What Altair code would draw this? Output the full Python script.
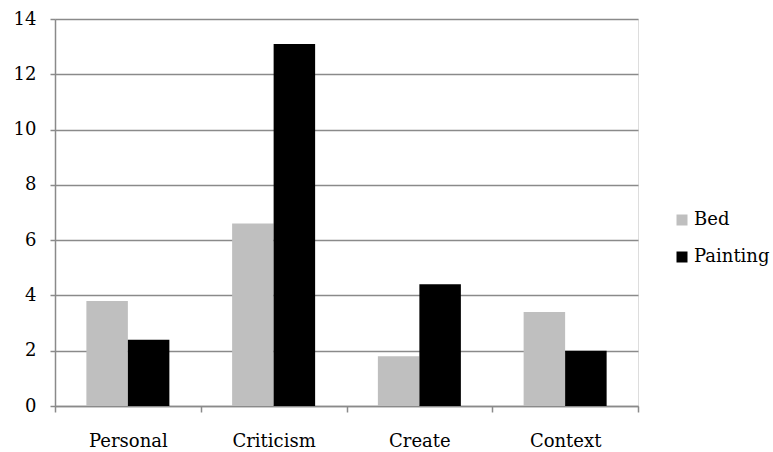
import altair as alt
import pandas as pd

categories = ["Personal", "Criticism", "Create", "Context"]
series = ["Bed", "Painting"]
bed_values = [3.8, 6.6, 1.8, 3.4]
painting_values = [2.4, 13.1, 4.4, 2.0]
y_ticks = [0, 2, 4, 6, 8, 10, 12, 14]

rows = []
for c, b, p in zip(categories, bed_values, painting_values):
    rows.append({"category": c, "series": "Bed", "value": b})
    rows.append({"category": c, "series": "Painting", "value": p})
df = pd.DataFrame(rows)

FONT = "DejaVu Serif"
GRID = "#8a8a8a"

chart = alt.Chart(df).mark_bar().encode(
    x=alt.X("category:N", sort=categories, title=None,
            scale=alt.Scale(paddingInner=0, paddingOuter=0),
            axis=alt.Axis(labelAngle=0, tickBand="extent", ticks=True, tickSize=6,
                          tickColor=GRID, tickWidth=1.5, domainColor=GRID, domainWidth=1.5,
                          labelFont=FONT, labelFontSize=18, labelColor="#000000",
                          labelPadding=20, grid=False)),
    xOffset=alt.XOffset("series:N", sort=series,
                        scale=alt.Scale(paddingInner=0, paddingOuter=0.756)),
    y=alt.Y("value:Q", title=None,
            scale=alt.Scale(domain=[0, 14], nice=False),
            axis=alt.Axis(values=y_ticks, tickSize=5, tickColor=GRID, tickWidth=1.5,
                          domainColor=GRID, domainWidth=1.5, gridColor=GRID,
                          gridWidth=1.5, labelFont=FONT, labelFontSize=18,
                          labelColor="#000000", labelPadding=14)),
    color=alt.Color("series:N", sort=series, title=None,
                    scale=alt.Scale(domain=series, range=["#bfbfbf", "#000000"]),
                    legend=alt.Legend(orient="none", legendX=618, legendY=192,
                                      symbolType="square", symbolSize=121,
                                      symbolStrokeWidth=0, labelFont=FONT,
                                      labelFontSize=18, labelColor="#000000",
                                      rowPadding=19, labelOffset=3)),
).properties(
    width=583, height=387,
    autosize=alt.AutoSizeParams(type="none"),
    padding={"left": 55, "top": 19, "right": 135, "bottom": 46},
).configure_view(stroke=None).configure(background="white")

chart.save("out.html", embed_options={"renderer": "svg", "actions": False})
